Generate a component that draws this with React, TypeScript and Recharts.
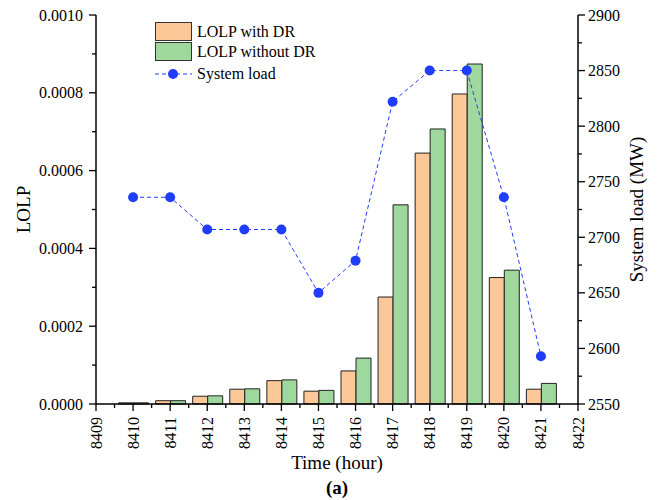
import React from 'react';
import { ComposedChart, Bar, Line, XAxis, YAxis, Label } from 'recharts';

const hours = [8410, 8411, 8412, 8413, 8414, 8415, 8416, 8417, 8418, 8419, 8420, 8421];
const lolpWithDR = [0.000003, 0.0000085, 0.00002, 0.000038, 0.00006, 0.000033, 0.000085, 0.000275, 0.000645, 0.000797, 0.000325, 0.000038];
const lolpWithoutDR = [0.000003, 0.0000085, 0.000021, 0.000039, 0.000062, 0.000035, 0.000118, 0.000512, 0.000707, 0.000874, 0.000344, 0.000053];
const systemLoad = [2736, 2736, 2707, 2707, 2707, 2650, 2679, 2822, 2850, 2850, 2736, 2593];

const xTicks = [
  8409, 8409.5, 8410, 8410.5, 8411, 8411.5, 8412, 8412.5, 8413, 8413.5, 8414, 8414.5, 8415, 8415.5,
  8416, 8416.5, 8417, 8417.5, 8418, 8418.5, 8419, 8419.5, 8420, 8420.5, 8421, 8421.5, 8422,
];
const lolpTicks = [0, 0.0001, 0.0002, 0.0003, 0.0004, 0.0005, 0.0006, 0.0007, 0.0008, 0.0009, 0.001];
const loadTicks = [2550, 2575, 2600, 2625, 2650, 2675, 2700, 2725, 2750, 2775, 2800, 2825, 2850, 2875, 2900];

const data = hours.map((h, i) => ({
  hour: h,
  withDR: lolpWithDR[i],
  withoutDR: lolpWithoutDR[i],
  load: systemLoad[i],
}));

const ORANGE = '#FDC898';
const GREEN = '#9ED89D';
const BLUE = '#1F3DFF';
const FONT = '"Liberation Serif", "Times New Roman", serif';
const txt = { fontFamily: FONT };

const XTick = (props: any) => {
  const { x, y, payload } = props;
  const major = Number.isInteger(payload.value);
  return (
    <g>
      <line x1={x} x2={x} y1={y} y2={y + (major ? 7 : 4)} stroke="#000" strokeWidth={1.3} />
      {major && (
        <text
          x={x}
          y={y + 13}
          transform={`rotate(-90, ${x}, ${y + 13})`}
          textAnchor="end"
          dominantBaseline="central"
          fontSize={16}
          style={txt}
          fill="#000"
        >
          {payload.value}
        </text>
      )}
    </g>
  );
};

const LeftTick = (props: any) => {
  const { x, y, payload, index } = props;
  const major = index % 2 === 0;
  return (
    <g>
      <line x1={x - (major ? 7 : 4)} x2={x} y1={y} y2={y} stroke="#000" strokeWidth={1.3} />
      {major && (
        <text x={x - 13} y={y} textAnchor="end" dominantBaseline="central" fontSize={16} style={txt} fill="#000">
          {payload.value.toFixed(4)}
        </text>
      )}
    </g>
  );
};

const RightTick = (props: any) => {
  const { x, y, payload } = props;
  const major = payload.value % 50 === 0;
  return (
    <g>
      <line x1={x} x2={x + (major ? 7 : 4)} y1={y} y2={y} stroke="#000" strokeWidth={1.3} />
      {major && (
        <text x={x + 10} y={y} textAnchor="start" dominantBaseline="central" fontSize={16} style={txt} fill="#000">
          {payload.value}
        </text>
      )}
    </g>
  );
};

const LeftTitle = (props: any) => {
  const { viewBox } = props;
  const cx = 23;
  const cy = viewBox.y + viewBox.height / 2;
  return (
    <text x={cx} y={cy} transform={`rotate(-90, ${cx}, ${cy})`} textAnchor="middle" dominantBaseline="central" fontSize={19} style={txt} fill="#000">
      LOLP
    </text>
  );
};

const RightTitle = (props: any) => {
  const { viewBox } = props;
  const cx = viewBox.x + 58;
  const cy = viewBox.y + viewBox.height / 2;
  return (
    <text x={cx} y={cy} transform={`rotate(-90, ${cx}, ${cy})`} textAnchor="middle" dominantBaseline="central" fontSize={19} style={txt} fill="#000">
      System load (MW)
    </text>
  );
};

const BottomTitle = (props: any) => {
  const { viewBox } = props;
  const cx = viewBox.x + viewBox.width / 2;
  return (
    <g>
      <text x={cx} y={viewBox.y + 58} textAnchor="middle" dominantBaseline="central" fontSize={19} style={txt} fill="#000">
        Time (hour)
      </text>
      <text x={cx} y={viewBox.y + 83} textAnchor="middle" dominantBaseline="central" fontSize={19} fontWeight="bold" style={txt} fill="#000">
        (a)
      </text>
    </g>
  );
};

const ChartLegend = () => (
  <div style={{ position: 'absolute', left: 155, top: 22, fontFamily: FONT, fontSize: 16, color: '#000' }}>
    <div style={{ display: 'flex', alignItems: 'center', height: 19 }}>
      <div style={{ width: 35, height: 17, background: ORANGE, border: '1px solid #333' }} />
      <span style={{ marginLeft: 5 }}>LOLP with DR</span>
    </div>
    <div style={{ display: 'flex', alignItems: 'center', height: 19, marginTop: 1 }}>
      <div style={{ width: 35, height: 17, background: GREEN, border: '1px solid #333' }} />
      <span style={{ marginLeft: 5 }}>LOLP without DR</span>
    </div>
    <div style={{ display: 'flex', alignItems: 'center', height: 20, marginTop: 3 }}>
      <svg width={37} height={12}>
        <line x1={0} x2={37} y1={6} y2={6} stroke={BLUE} strokeDasharray="4 3" strokeWidth={1} />
        <circle cx={18} cy={6} r={5} fill={BLUE} />
      </svg>
      <span style={{ marginLeft: 5 }}>System load</span>
    </div>
  </div>
);

export default function App() {
  return (
    <div style={{ position: 'absolute', left: 0, top: 0, width: 659, height: 500, background: '#fff', fontFamily: FONT }}>
      <ComposedChart
        width={659}
        height={500}
        data={data}
        margin={{ top: 15, right: 0, bottom: 46, left: 0 }}
        barGap={0}
        style={{ fontFamily: FONT }}
      >
        <XAxis
          dataKey="hour"
          type="number"
          domain={[8409, 8422]}
          ticks={xTicks}
          interval={0}
          height={50}
          axisLine={{ stroke: '#000', strokeWidth: 1.5 }}
          tickLine={false}
          tickSize={0}
          tickMargin={0}
          tick={<XTick />}
        >
          <Label content={<BottomTitle />} />
        </XAxis>
        <YAxis
          yAxisId="left"
          orientation="left"
          width={96}
          domain={[0, 0.001]}
          ticks={lolpTicks}
          interval={0}
          axisLine={{ stroke: '#000', strokeWidth: 1.5 }}
          tickLine={false}
          tickSize={0}
          tickMargin={0}
          tick={<LeftTick />}
        >
          <Label content={<LeftTitle />} />
        </YAxis>
        <YAxis
          yAxisId="right"
          orientation="right"
          width={81}
          domain={[2550, 2900]}
          ticks={loadTicks}
          interval={0}
          axisLine={{ stroke: '#000', strokeWidth: 1.5 }}
          tickLine={false}
          tickSize={0}
          tickMargin={0}
          tick={<RightTick />}
        >
          <Label content={<RightTitle />} />
        </YAxis>
        <Bar yAxisId="left" dataKey="withDR" barSize={15} fill={ORANGE} stroke="#222" strokeWidth={1} isAnimationActive={false} />
        <Bar yAxisId="left" dataKey="withoutDR" barSize={15} fill={GREEN} stroke="#222" strokeWidth={1} isAnimationActive={false} />
        <Line
          yAxisId="right"
          dataKey="load"
          type="linear"
          stroke={BLUE}
          strokeWidth={1}
          strokeDasharray="4 3"
          dot={{ r: 5, fill: BLUE, stroke: 'none' }}
          activeDot={false}
          isAnimationActive={false}
        />
      </ComposedChart>
      <ChartLegend />
    </div>
  );
}
